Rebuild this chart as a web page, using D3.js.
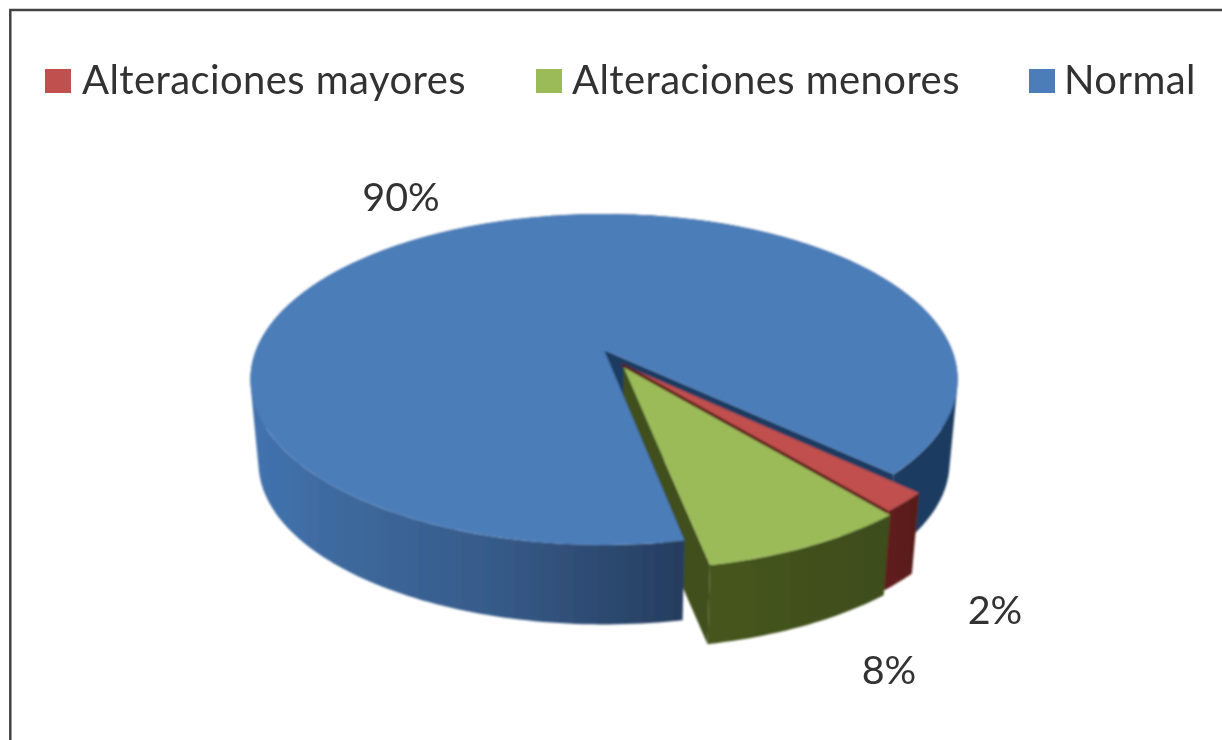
<!DOCTYPE html>
<html>
<head>
<meta charset="utf-8">
<style>
  html, body { margin: 0; padding: 0; background: #fff; }
  svg { display: block; }
</style>
<script src="https://cdn.jsdelivr.net/npm/d3@7"></script>
</head>
<body>
<div id="chart"></div>
<script>
const categories = ["Alteraciones mayores", "Alteraciones menores", "Normal"];
const percents = [2, 8, 90];

const width = 1222, height = 740;
const fontFamily = "Lato, 'Noto Sans', sans-serif";

// colours per category: top face, cut wall
const topColors = ["#c0504d", "#9bbb59", "#4c7db9"];
const cutColors = ["#5c1c1b", "#404f1e", "#1d3a60"];

// perspective of the tilted disc
const cam = {x: 604, yTop: 350, yBottom: 434, A: 160.2, R: 348, k: 0.178, bottomScale: 0.977};
const startDeg = 133;
// how far each slice is pulled out, in disc units
const explode = [[0.05, 0.088], [0.055, 0.102], [0, 0]];

function project(u, v, bottom) {
    const s = bottom ? cam.bottomScale : 1;
    const w = 1 - cam.k * v;
    return [cam.x + s * cam.R * u / w, (bottom ? cam.yBottom : cam.yTop) + s * cam.A * v / w];
}

const pie = d3.pie().sort(null)
    .startAngle(startDeg * Math.PI / 180)
    .endAngle((startDeg + 360) * Math.PI / 180);
const slices = pie(percents);

// angle measured clockwise from 12 o'clock
const rim = (a, i, bottom) => project(Math.sin(a) + explode[i][0], -Math.cos(a) + explode[i][1], bottom);
const hub = (i, bottom) => project(explode[i][0], explode[i][1], bottom);
const arcAngles = (a0, a1, n = 120) => d3.range(0, n + 1).map(t => a0 + (a1 - a0) * t / n);
const line = d3.line();

let svg = d3.select("#chart")
    .append("svg")
    .attr("width", width)
    .attr("height", height)
    .attr("viewBox", [0, 0, width, height]);

const defs = svg.append("defs");
defs.append("filter").attr("id", "soft")
    .append("feGaussianBlur").attr("stdDeviation", 0.8);
defs.append("filter").attr("id", "softText")
    .append("feGaussianBlur").attr("stdDeviation", 0.6);

function gradient(id, x1, x2, stops) {
    const g = defs.append("linearGradient").attr("id", id)
        .attr("gradientUnits", "userSpaceOnUse")
        .attr("x1", x1).attr("x2", x2).attr("y1", 0).attr("y2", 0);
    stops.forEach(s => g.append("stop").attr("offset", s[0]).attr("stop-color", s[1]));
}
gradient("wallBlue", 249, 956, [[0.015, "#4272ad"], [0.143, "#3d689c"], [0.355, "#365a88"], [0.553, "#2a4468"], [0.614, "#263d60"], [0.9, "#1c3a60"]]);
gradient("wallGreen", 708, 880, [[0, "#46561f"], [1, "#3e4d1c"]]);
gradient("wallRed", 880, 918, [[0, "#631c1c"], [1, "#571a19"]]);

// frame, open on the right as in the cropped picture
svg.append("path")
    .attr("d", line([[width, 10], [10.3, 10], [10.3, height]]))
    .attr("fill", "none")
    .attr("stroke", "#444")
    .attr("stroke-width", 2.5);

const pieG = svg.append("g").attr("filter", "url(#soft)");

// wall between two rim angles: quads of one winding in a single path, so no seams
function wall(i, a0, a1) {
    const steps = Math.max(4, Math.round((a1 - a0) / 0.02));
    return d3.pairs(arcAngles(a0, a1, steps)).map(([a, b]) => {
        const quad = [rim(a, i, false), rim(b, i, false), rim(b, i, true), rim(a, i, true)];
        if (d3.polygonArea(quad) < 0) quad.reverse();
        return line(quad) + "Z";
    }).join("");
}
// flat cut wall from the hub to a rim angle
function cut(i, a) {
    return line([hub(i, false), rim(a, i, false), rim(a, i, true), hub(i, true)]) + "Z";
}
// top face of a slice
function face(i, a0, a1) {
    return line([hub(i, false)].concat(arcAngles(a0, a1).map(a => rim(a, i, false)))) + "Z";
}

const [red, green, blue] = slices;

// back to front
pieG.append("path").attr("d", cut(2, blue.endAngle)).attr("fill", cutColors[2]);
pieG.append("path").attr("d", cut(1, green.endAngle)).attr("fill", cutColors[1]);
pieG.append("path").attr("d", wall(2, blue.startAngle, blue.endAngle)).attr("fill", "url(#wallBlue)");
pieG.append("path").attr("d", face(2, blue.startAngle, blue.endAngle)).attr("fill", topColors[2]);
pieG.append("path").attr("d", wall(0, red.startAngle, red.endAngle)).attr("fill", "url(#wallRed)");
pieG.append("path").attr("d", face(0, red.startAngle, red.endAngle)).attr("fill", topColors[0]);
pieG.append("path").attr("d", wall(1, green.startAngle, green.endAngle)).attr("fill", "url(#wallGreen)");
pieG.append("path").attr("d", face(1, green.startAngle, green.endAngle)).attr("fill", topColors[1]);
// dark seam between the red and green top faces
pieG.append("path")
    .attr("d", line([hub(0, false), rim(red.endAngle, 0, false)]))
    .attr("stroke", cutColors[0])
    .attr("stroke-width", 3)
    .attr("fill", "none");

// legend
const swatchX = [45, 536, 1029], legendTextX = [82, 572, 1064];
const legend = svg.selectAll(".legend")
    .data(categories)
    .join("g")
    .attr("class", "legend");
legend.append("rect")
    .attr("x", (d, i) => swatchX[i])
    .attr("y", 69)
    .attr("width", 26)
    .attr("height", 24)
    .attr("fill", (d, i) => topColors[i]);
legend.append("text")
    .attr("x", (d, i) => legendTextX[i])
    .attr("y", 94)
    .attr("filter", "url(#softText)")
    .style("font-family", fontFamily)
    .style("font-size", "40px")
    .style("letter-spacing", "0.42px")
    .style("fill", "#333")
    .text(d => d);

// percent labels
const labelX = [401, 889, 995], labelY = [211, 684, 624];
// labels follow the pie order: 2%, 8%, 90%
const labelOrder = [2, 1, 0];
svg.selectAll(".pct")
    .data(labelOrder.map(i => percents[i]))
    .join("text")
    .attr("class", "pct")
    .attr("x", (d, i) => labelX[i])
    .attr("y", (d, i) => labelY[i])
    .attr("text-anchor", "middle")
    .attr("filter", "url(#softText)")
    .style("font-family", fontFamily)
    .style("font-size", "39.5px")
    .style("fill", "#333")
    .text(d => d + "%");
</script>
</body>
</html>
